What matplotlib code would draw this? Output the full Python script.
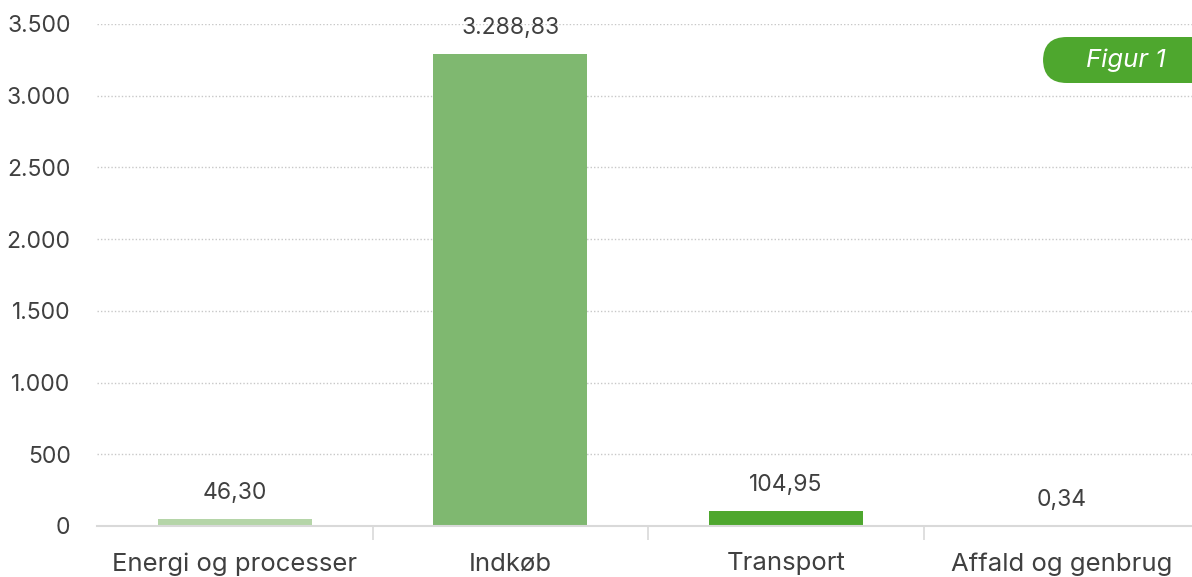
import matplotlib
matplotlib.use("Agg")
import matplotlib.pyplot as plt
from matplotlib.patches import FancyBboxPatch
from matplotlib.ticker import FuncFormatter, FixedLocator

categories = ["Energi og processer", "Indkøb", "Transport", "Affald og genbrug"]
values = [46.30, 3288.83, 104.95, 0.34]
colors = ["#b5d5a8", "#7fb870", "#4ea72e", "#4ea72e"]
yticks = [0, 500, 1000, 1500, 2000, 2500, 3000, 3500]

def dk(v, dec=2):
    s = f"{v:,.{dec}f}"
    return s.replace(",", "X").replace(".", ",").replace("X", ".")

plt.rcParams['font.family'] = ['Inter', 'DejaVu Sans']
txt = "#404040"

fig = plt.figure(figsize=(11.92, 5.77), dpi=100)
ax = fig.add_axes([97/1192, 51/577, 1102/1192, 502/577])
x = range(len(categories))
ax.bar(x, values, width=0.56, color=colors, zorder=3)
ax.set_xlim(-0.5, 3.5)
ax.set_ylim(0, 3500)
ax.set_yticks(yticks)
ax.yaxis.set_major_formatter(FuncFormatter(lambda v, p: dk(v, 0)))
ax.grid(axis='y', color="#c8c8c8", linestyle=(0, (1, 1.5)), linewidth=1, zorder=0)
ax.set_xticks(list(x))
ax.set_xticklabels(categories, fontsize=18.5, color=txt)
ax.tick_params(axis='x', length=0, pad=19)
ax.xaxis.set_minor_locator(FixedLocator([0.5, 1.5, 2.5]))
ax.tick_params(axis='x', which='minor', length=10, color="#d9d9d9", width=1.2)
ax.tick_params(axis='y', length=0, labelsize=16.5, labelcolor=txt, pad=19)
for s in ['top', 'right', 'left']:
    ax.spines[s].set_visible(False)
ax.spines['bottom'].set_color("#d9d9d9")
ax.spines['bottom'].set_linewidth(1.5)
ax.spines['bottom'].set_zorder(4)

for xi, v in zip(x, values):
    ax.annotate(dk(v), (xi, v), xytext=(0, 19), textcoords='offset points',
                ha='center', va='center', fontsize=16.5, color=txt, zorder=5)

badge = FancyBboxPatch((1043/1192, (577-83)/577), 200/1192, 46/577,
                       boxstyle="round,pad=0,rounding_size=0.02",
                       transform=fig.transFigure, facecolor="#4ea72e",
                       edgecolor="none", mutation_aspect=1192/577, zorder=10)
fig.patches.append(badge)
fig.text(1126/1192, (577-60)/577, "Figur 1", color="white", fontsize=18.5,
         style='italic', ha='center', va='center', zorder=11)

fig.savefig("out.png", dpi=100)
